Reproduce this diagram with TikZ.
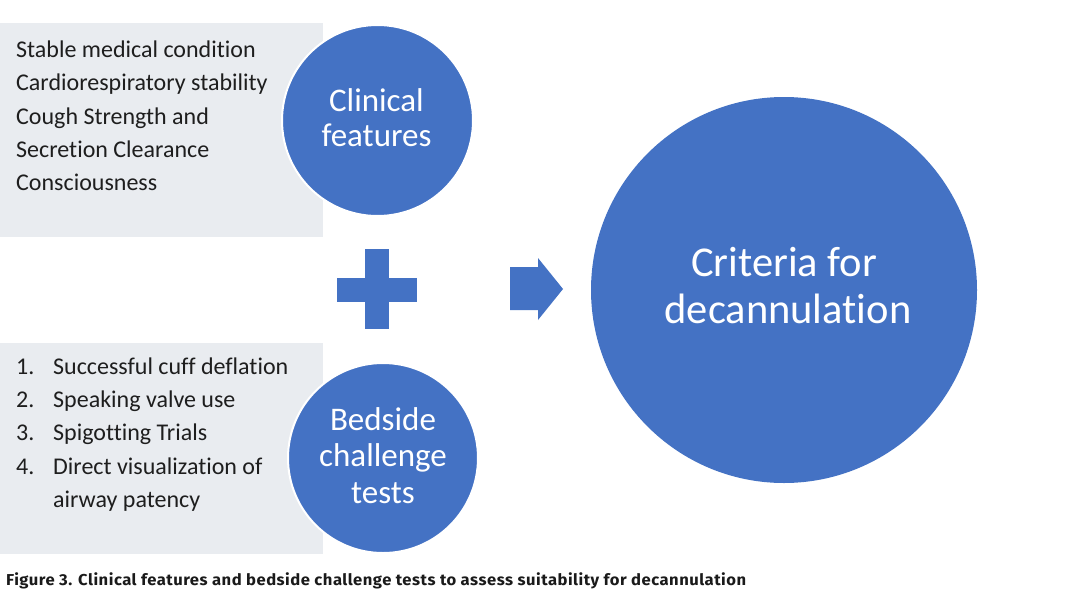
\documentclass[tikz,border=0pt]{standalone}
\usepackage{fontspec}
\setmainfont{Carlito}[Ligatures={NoCommon,NoRare,NoContextual}]
\newfontfamily\capfont[LetterSpace=3]{Fira Sans}
\usetikzlibrary{positioning}
\definecolor{oblue}{HTML}{4472C4}
\definecolor{boxgray}{HTML}{E9ECF0}
\definecolor{ink}{HTML}{1E1E1E}
\definecolor{capink}{HTML}{1A1A1A}
\begin{document}
\begin{tikzpicture}[x=1pt,y=-1pt,
  panel/.style={fill=boxgray,draw=none},
  bubble/.style={circle,fill=oblue,draw=white,line width=2pt,inner sep=0pt,text=white,align=center},
  listtext/.style={anchor=base west,inner sep=0pt,text=ink,font=\fontsize{24}{24}\selectfont},
  bubtext/.style={anchor=base,inner sep=0pt,text=white},
  shapefill/.style={fill=oblue,draw=none}]
\useasboundingbox (0,0) rectangle (1068,600);
\fill[white] (0,0) rectangle (1068,600);
% panels
\path[panel] (0,22.7) rectangle (322.7,236.7);
\path[panel] (0,343) rectangle (322.7,554);
% circles
\node[bubble,minimum size=191pt] (clin) at (377.5,120.5) {};
\node[bubble,minimum size=190pt] (bed) at (383,458) {};
\node[bubble,minimum size=386pt,line width=0pt,draw=none] (crit) at (784,290) {};
% top list
\node[listtext] (t1) at (16,57.3) {Stable medical condition};
\node[listtext] (t2) at (16,90.6) {Cardiorespiratory stability};
\node[listtext] (t3) at (16,124) {Cough Strength and};
\node[listtext] (t4) at (16,157.3) {Secretion Clearance};
\node[listtext] (t5) at (16,190.6) {Consciousness};
% bottom list
\node[listtext] (n1) at (16,374) {1.};
\node[listtext] (b1) at (53,374) {Successful cuff deflation};
\node[listtext] (n2) at (16,407.3) {2.};
\node[listtext] (b2) at (53,407.3) {Speaking valve use};
\node[listtext] (n3) at (16,440.6) {3.};
\node[listtext] (b3) at (53,440.6) {Spigotting Trials};
\node[listtext] (n4) at (16,474) {4.};
\node[listtext] (b4) at (53,474) {Direct visualization of};
\node[listtext] (b5) at (53,507.3) {airway patency};
% bubble texts
\node[bubtext,font=\fontsize{33}{33}\selectfont] (c1) at (376.5,111.7) {Clinical};
\node[bubtext,font=\fontsize{33}{33}\selectfont] (c2) at (376.5,146.7) {features};
\node[bubtext,font=\fontsize{33}{33}\selectfont] (d1) at (383,430.7) {Bedside};
\node[bubtext,font=\fontsize{33}{33}\selectfont] (d2) at (383,466.5) {challenge};
\node[bubtext,font=\fontsize{33}{33}\selectfont] (d3) at (383,503.3) {tests};
\node[bubtext,font=\fontsize{42.5}{42.5}\selectfont] (e1) at (784,276.7) {Criteria for};
\node[bubtext,font=\fontsize{42.5}{42.5}\selectfont] (e2) at (788,323) {decannulation};
% plus sign
\path[shapefill] (337,278) rectangle (417,302);
\path[shapefill] (365,249) rectangle (389,329);
\coordinate (plusc) at (377,289);
% arrow
\path[shapefill] (510,267) -- (538,267) -- (538,258) -- (563,289) -- (538,320) -- (538,310) -- (510,310) -- cycle;
\coordinate (arrtip) at (563,289);
% caption
\node[anchor=base west,inner sep=0pt,text=capink] (cap) at (6,585)
  {\resizebox{740pt}{12.8pt}{\capfont\bfseries Figure 3. Clinical features and bedside challenge tests to assess suitability for decannulation}};
\end{tikzpicture}
\end{document}
